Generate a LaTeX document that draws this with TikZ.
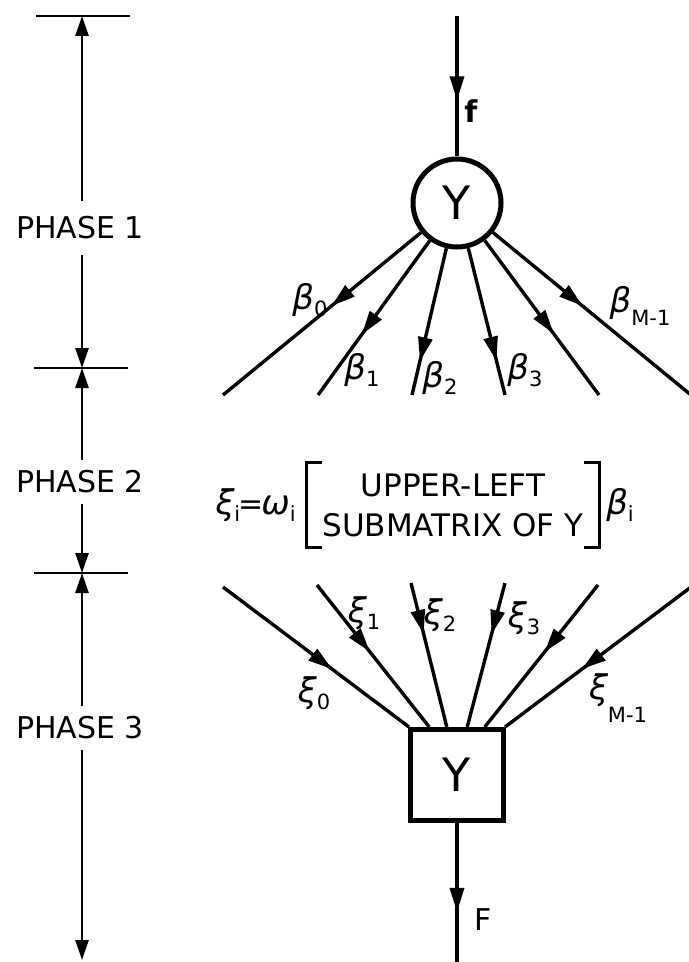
\documentclass[tikz,border=0pt]{standalone}
\usepackage{fontspec}
\setmainfont{DejaVu Sans}
\usetikzlibrary{positioning,arrows.meta,decorations.markings}
\newcommand\gk[2]{{\fontsize{17}{20}\selectfont\itshape #1}\raisebox{-3.5pt}{\fontsize{10.5}{12}\selectfont #2}}

\begin{document}
\begin{tikzpicture}[x=0.5pt, y=-0.5pt, >={Triangle[length=10pt,width=6.5pt]},
  phase/.style={font=\fontsize{15}{17}\selectfont, inner xsep=2pt, inner ysep=5pt},
  dim/.style={line width=1.3pt, ->},
  tick/.style={line width=1.3pt},
  wire/.style={line width=1.7pt},
  flowat/.style={postaction={decorate, decoration={markings,
      mark=at position #1 with {\arrow{Triangle[length=12pt,width=7pt]}}}}},
  op/.style={draw, line width=2.5pt, inner sep=0pt, font=\fontsize{23}{26}\selectfont},
  lab/.style={font=\fontsize{15}{18}\selectfont, inner sep=1pt},
  brk/.style={line width=1.5pt}]
\useasboundingbox (0,0) rectangle (689,962);

% phases
\coordinate (t1) at (82,16);
\coordinate (t2) at (82,368);
\coordinate (t3) at (82,573);
\coordinate (t4) at (82,960);
\node[phase, inner ysep=7.5pt] (p1) at (80,228) {PHASE 1};
\node[phase] (p2) at (80,482) {PHASE 2};
\node[phase] (p3) at (80,728) {PHASE 3};
\draw[tick] ([xshift=-23pt]t1) -- ([xshift=24pt]t1);
\draw[tick] ([xshift=-24pt]t2) -- ([xshift=23pt]t2);
\draw[tick] ([xshift=-24pt]t3) -- ([xshift=23pt]t3);
\draw[dim] (p1.north -| t1) -- (t1);
\draw[dim] (p1.south -| t1) -- (t2);
\draw[dim] (p2.north -| t1) -- (t2);
\draw[dim] (p2.south -| t1) -- (t3);
\draw[dim] (p3.north -| t1) -- (t3);
\draw[dim] (p3.south -| t1) -- (t4);

% phase 1
\coordinate (fin) at (457,16);
\node[op, circle, minimum size=44pt] (yc) at (457,203) {Y};
\draw[wire, flowat=0.6] (fin) -- (yc);
\node[lab] (lf) at (471,111) {\bfseries f};
\coordinate (b0) at (223,395);
\coordinate (b1) at (318,395);
\coordinate (b2) at (412,395);
\coordinate (b3) at (505,395);
\coordinate (b4) at (599,395);
\coordinate (b5) at (691,395);
\draw[wire, flowat=58pt] (yc) -- (b0);
\draw[wire, flowat=58pt] (yc) -- (b1);
\draw[wire, flowat=58pt] (yc) -- (b2);
\draw[wire, flowat=58pt] (yc) -- (b3);
\draw[wire, flowat=58pt] (yc) -- (b4);
\draw[wire, flowat=58pt] (yc) -- (b5);
\node[lab] (lb0) at (310,300) {\gk{β}{0}};
\node[lab] (lb1) at (362,370) {\gk{β}{1}};
\node[lab] (lb2) at (440,378) {\gk{β}{2}};
\node[lab] (lb3) at (525,370) {\gk{β}{3}};
\node[lab] (lb5) at (640,306) {\gk{β}{\raisebox{-3pt}{M-1}}};

% phase 2
\node[font=\fontsize{15.5}{20}\selectfont, align=center, inner xsep=8pt, inner ysep=0pt,
  minimum height=42pt] (mat) at (453,505) {UPPER-LEFT\\ SUBMATRIX OF Y};
\draw[brk] ([xshift=8pt]mat.north west) -- (mat.north west) -- (mat.south west) -- ([xshift=8pt]mat.south west);
\draw[brk] ([xshift=-8pt]mat.north east) -- (mat.north east) -- (mat.south east) -- ([xshift=-8pt]mat.south east);
\node[lab, left=4pt of mat] (lhs) {\gk{ξ}{i}\kern-1pt=\kern-1pt\gk{ω}{i}};
\node[lab, right=2pt of mat] (rhs) {\gk{β}{i}};

% phase 3
\node[op, rectangle, minimum width=46.5pt, minimum height=45.5pt] (yb) at (457,775) {Y};
\coordinate (x0) at (223,587);
\coordinate (x1) at (317,585);
\coordinate (x2) at (411,583);
\coordinate (x3) at (505,583);
\coordinate (x4) at (598,585);
\coordinate (x5) at (691,587);
\draw[wire, flowat=-48pt] (x0) -- (yb.135);
\draw[wire, flowat=-48pt] (x1) -- (yb.120);
\draw[wire, flowat=-48pt] (x2) -- (yb.102);
\draw[wire, flowat=-48pt] (x3) -- (yb.78);
\draw[wire, flowat=-48pt] (x4) -- (yb.60);
\draw[wire, flowat=-48pt] (x5) -- (yb.45);
\node[lab] (lx0) at (314,693) {\gk{ξ}{0}};
\node[lab] (lx1) at (364,613) {\gk{ξ}{1}};
\node[lab] (lx2) at (440,615) {\gk{ξ}{2}};
\node[lab] (lx3) at (524,618) {\gk{ξ}{3}};
\node[lab] (lx5) at (618,698) {\gk{ξ}{\raisebox{-8pt}{M-1}}};
\coordinate (fout) at (457,962);
\draw[wire, flowat=0.64] (yb) -- (fout);
\node[lab] (lF) at (483,920) {F};
\end{tikzpicture}
\end{document}
